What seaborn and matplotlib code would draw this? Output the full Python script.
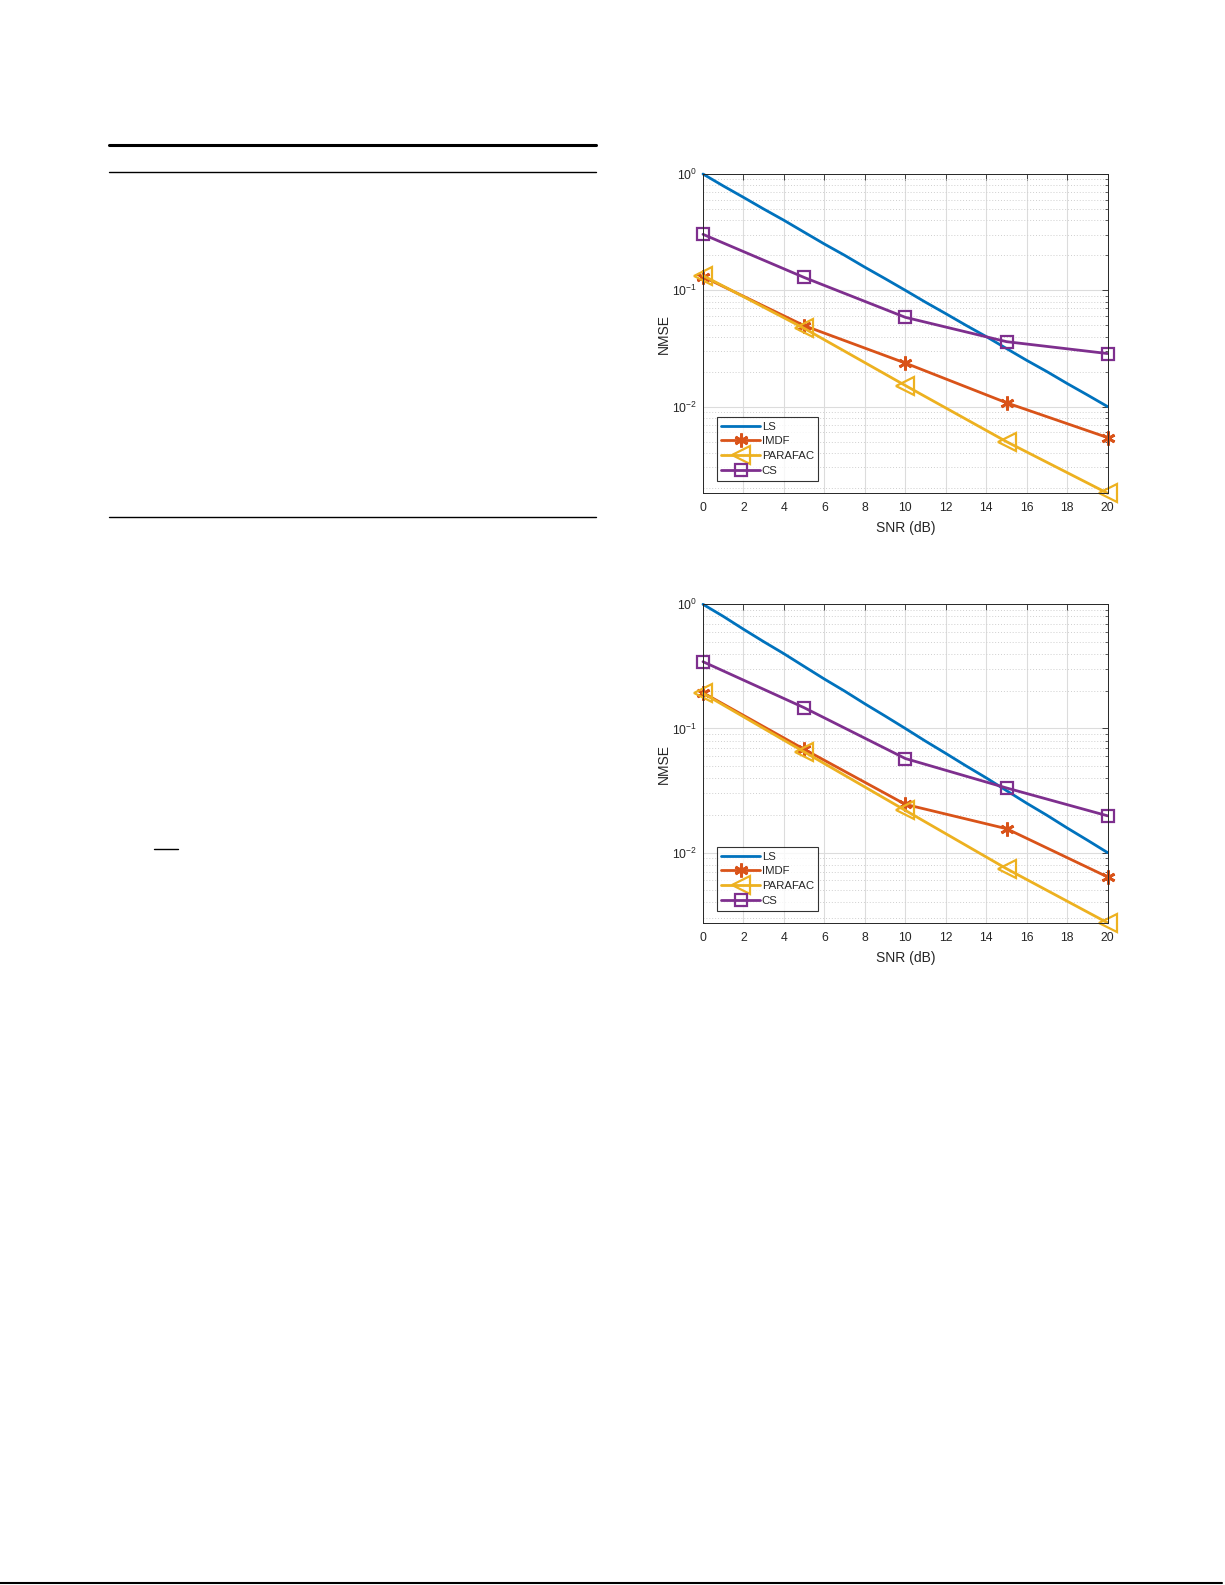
import numpy as np
import pandas as pd
import matplotlib
matplotlib.use("Agg")
import matplotlib.pyplot as plt
import seaborn as sns
from matplotlib.lines import Line2D
from matplotlib.ticker import LogLocator, NullFormatter

# data
snr_ls = [0, 1, 2, 3, 4, 5, 6, 7, 8, 9, 10, 11, 12, 13, 14, 15, 16, 17, 18, 19, 20]
ls_top = [1.0, 0.79, 0.63, 0.50, 0.40, 0.316, 0.25, 0.20, 0.158, 0.126, 0.100,
          0.079, 0.063, 0.050, 0.040, 0.0316, 0.025, 0.020, 0.0158, 0.0126, 0.0100]
ls_bot = [1.0, 0.80, 0.63, 0.50, 0.40, 0.316, 0.25, 0.20, 0.158, 0.126, 0.100,
          0.079, 0.063, 0.050, 0.040, 0.0316, 0.025, 0.020, 0.0158, 0.0126, 0.0100]

snr = [0, 5, 10, 15, 20]
imdf_top = [0.131, 0.0497, 0.0237, 0.0108, 0.00542]
parafac_top = [0.134, 0.0471, 0.0152, 0.0050, 0.0018]
cs_top = [0.303, 0.129, 0.0586, 0.0362, 0.0286]

imdf_bot = [0.194, 0.068, 0.0245, 0.0156, 0.00637]
parafac_bot = [0.192, 0.0648, 0.0219, 0.00743, 0.00272]
cs_bot = [0.345, 0.147, 0.0573, 0.0332, 0.0198]

names = ["LS", "IMDF", "PARAFAC", "CS"]
colors = ["#0072BD", "#D95319", "#EDB120", "#7E2F8E"]

sns.set_style("white")
plt.rcParams['font.family'] = ['Liberation Sans', 'DejaVu Sans']
plt.rcParams['mathtext.default'] = 'regular'
plt.rcParams['axes.unicode_minus'] = False

fig = plt.figure(figsize=(12.25, 15.85), dpi=100)

# page rules (the text of the page is not part of the picture)
def hline(x0, x1, y, lw):
    fig.add_artist(Line2D([x0 / 1225, x1 / 1225], [1 - y / 1585, 1 - y / 1585],
                          color="black", lw=lw, transform=fig.transFigure))

hline(109, 596, 145, 2.2)
hline(109, 596, 171.5, 1.0)
hline(109, 596, 517, 1.0)
hline(154, 178, 849, 1.0)
hline(0, 1222, 1583, 1.5)


def panel(rect, ls, imdf, parafac, cs, ymin):
    ax = fig.add_axes(rect)
    sns.lineplot(x=snr_ls, y=ls, ax=ax, color=colors[0], lw=2.0, label=names[0],
                 clip_on=False)
    sns.lineplot(x=snr, y=imdf, ax=ax, color=colors[1], lw=2.0, marker=(6, 2, 0),
                 markersize=10, markeredgewidth=2.0, markeredgecolor=colors[1],
                 label=names[1], clip_on=False)
    sns.lineplot(x=snr, y=parafac, ax=ax, color=colors[2], lw=2.0, marker="<",
                 markersize=12.5, markerfacecolor="none", markeredgewidth=1.6,
                 markeredgecolor=colors[2], label=names[2], clip_on=False)
    sns.lineplot(x=snr, y=cs, ax=ax, color=colors[3], lw=2.0, marker="s",
                 markersize=8.5, markerfacecolor="none", markeredgewidth=1.6,
                 markeredgecolor=colors[3], label=names[3], clip_on=False)
    ax.set_yscale("log")
    ax.set_xlim(0, 20)
    ax.set_ylim(ymin, 1)
    ax.set_xticks(range(0, 21, 2))
    ax.yaxis.set_major_locator(LogLocator(base=10, numticks=10))
    ax.yaxis.set_minor_locator(LogLocator(base=10, subs=np.arange(2, 10), numticks=10))
    ax.yaxis.set_minor_formatter(NullFormatter())
    ax.grid(True, which="major", color="#dcdcdc", lw=0.8, ls="-")
    ax.grid(True, which="minor", axis="y", color="#cfcfcf", lw=0.7, ls=(0, (1, 2)))
    ax.set_axisbelow(True)
    ax.tick_params(which="both", direction="in", top=True, right=True,
                   colors="#262626", labelsize=8.8)
    ax.tick_params(axis="x", pad=6)
    ax.tick_params(axis="y", pad=4)
    ax.tick_params(which="major", length=4, width=0.6)
    ax.tick_params(which="minor", length=2, width=0.5)
    for s in ax.spines.values():
        s.set_color("#262626")
        s.set_linewidth(0.7)
    ax.set_xlabel("SNR (dB)", fontsize=10, color="#262626", labelpad=5)
    ax.set_ylabel("NMSE", fontsize=10, color="#262626", labelpad=1)
    leg = ax.legend(loc="lower left", bbox_to_anchor=(0.034, 0.04), fontsize=8.2,
                    frameon=True, fancybox=False, edgecolor="black",
                    handlelength=3.4, handletextpad=0.15, labelspacing=0.42,
                    borderpad=0.4, borderaxespad=0)
    leg.get_frame().set_linewidth(0.8)
    for t in leg.get_texts():
        t.set_color("#262626")
    return ax


panel([703 / 1225, 1 - 493.3 / 1585, 404.7 / 1225, 319.3 / 1585],
      ls_top, imdf_top, parafac_top, cs_top, 0.0018)
panel([703 / 1225, 1 - 923.3 / 1585, 404.7 / 1225, 319 / 1585],
      ls_bot, imdf_bot, parafac_bot, cs_bot, 0.0027)

fig.savefig("out.png", dpi=100, facecolor="white")
